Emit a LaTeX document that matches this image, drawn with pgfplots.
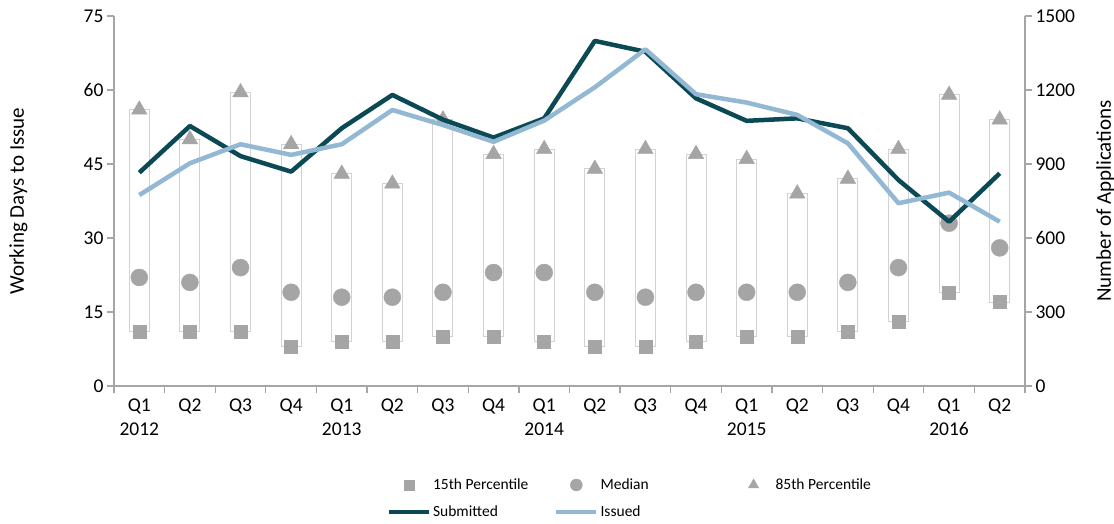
\documentclass[border=0pt]{standalone}
\usepackage{fontspec}
\setmainfont{Carlito}
\usepackage{pgfplots}
\pgfplotsset{compat=1.18}
\usepackage{pgfplotstable}

\definecolor{subm}{HTML}{0B4A55}
\definecolor{issd}{HTML}{93B8D3}
\definecolor{mk}{HTML}{A5A5A5}
\definecolor{boxc}{HTML}{D2D2D2}
\definecolor{axc}{HTML}{A6A6A6}

% quarters 2012 Q1 .. 2016 Q2
\pgfplotstableread{
x  p15 med p85  sub  iss
0  11  22  56   865  774
1  11  21  50   1054 903
2  11  24  59.5 932  980
3  8   19  49   869  937
4  9   18  43   1045 980
5  9   18  41   1180 1119
6  10  19  54   1080 1058
7  10  23  47   1007 990
8  9   23  48   1085 1076
9  8   19  44   1399 1211
10 8   18  48   1355 1365
11 9   19  47   1166 1183
12 10  19  46   1075 1149
13 10  19  39   1085 1099
14 11  21  42   1045 984
15 13  24  48   835  741
16 19  33  59   666  784
17 17  28  54   862  666
}\data

\pgfplotsset{
  base/.style={width=911pt, height=370pt, scale only axis,
    at={(114pt,137pt)}, anchor=south west,
    xmin=-0.5, xmax=17.5,
    /pgf/number format/assume math mode=true,
    /pgf/number format/1000 sep={}},
  mklegend/.style={legend image code/.code={\path[draw=none,fill=none] (0pt,0pt) -- (40pt,0pt);\draw[##1] plot coordinates {(20pt,0pt)};}},
  lnlegend/.style={legend image code/.code={\draw[##1] (0pt,0pt) -- (40pt,0pt);}},
}

\begin{document}
\begin{tikzpicture}
\useasboundingbox (0,0) rectangle (1114pt,523pt);

% boxes from 15th to 85th percentile
\begin{axis}[base, hide axis, ymin=0, ymax=75, ybar stacked, bar width=20pt]
  \addplot[draw=none, fill=none] table[x=x, y=p15] {\data};
  \addplot[draw=boxc, fill=white, line width=1pt] table[x=x, y expr=\thisrow{p85}-\thisrow{p15}] {\data};
\end{axis}

% left axis, percentile markers
\begin{axis}[base, ymin=0, ymax=75, ytick={0,15,...,75},
  axis x line*=bottom, axis y line*=left,
  axis line style={axc, line width=1.3pt},
  tick style={axc, line width=1.3pt}, tick align=outside,
  major tick length=7pt,
  xtick={0,...,17}, major x tick style={draw=none},
  minor xtick={-0.5,0.5,...,17.5}, minor tick length=7pt,
  xticklabels={{Q1\\2012},Q2,Q3,Q4,{Q1\\2013},Q2,Q3,Q4,{Q1\\2014},Q2,Q3,Q4,{Q1\\2015},Q2,Q3,Q4,{Q1\\2016},Q2},
  xticklabel style={align=center, anchor=north, font=\fontsize{19.5}{24}\selectfont, yshift=-2pt},
  yticklabel style={font=\fontsize{19.5}{24}\selectfont},
  ylabel={Working Days to Issue},
  ylabel style={at={(axis description cs:-0.105,0.5)}, anchor=center, font=\fontsize{21}{24}\selectfont},
  ]
  \addplot[only marks, mark=square*, mark size=6.5pt, mk, mark options={draw=mk, fill=mk}] table[x=x, y=p15] {\data};
  \addplot[only marks, mark=*, mark size=8.5pt, mk, mark options={draw=mk, fill=mk}] table[x=x, y=med] {\data};
  \addplot[only marks, mark=triangle*, mark size=9pt, mk, mark options={draw=mk, fill=mk}] table[x=x, y=p85] {\data};
\end{axis}

% right axis, application counts
\begin{axis}[base, ymin=0, ymax=1500, ytick={0,300,...,1500},
  axis x line=none, axis y line*=right,
  axis line style={axc, line width=1.3pt},
  tick style={axc, line width=1.3pt}, tick align=outside,
  major tick length=7pt,
  yticklabel style={font=\fontsize{19.5}{24}\selectfont},
  ylabel={Number of Applications},
  ylabel style={at={(axis description cs:1.088,0.5)}, anchor=center, font=\fontsize{21}{24}\selectfont},
  legend columns=3,
  legend cell align=left,
  legend style={at={(axis description cs:0.299,-0.245)}, anchor=north west,
    draw=none, fill=none, inner sep=0pt, row sep=11pt,
    font=\fontsize{15.5}{18}\selectfont},
  ]
  \addlegendimage{mklegend, only marks, mark=square*, mark size=5pt, mk, mark options={draw=mk, fill=mk}}
  \addlegendentry{\makebox[119pt][l]{15th Percentile}}
  \addlegendimage{mklegend, only marks, mark=*, mark size=6pt, mk, mark options={draw=mk, fill=mk}}
  \addlegendentry{\makebox[131pt][l]{Median}}
  \addlegendimage{mklegend, only marks, mark=triangle*, mark size=6pt, mk, mark options={draw=mk, fill=mk}}
  \addlegendentry{\makebox[112pt][l]{85th Percentile}}
  \addplot[lnlegend, subm, line width=4.5pt, line join=round, mark=none] table[x=x, y=sub] {\data};
  \addlegendentry{Submitted}
  \addplot[lnlegend, issd, line width=4.5pt, line join=round, mark=none] table[x=x, y=iss] {\data};
  \addlegendentry{Issued}
\end{axis}
\end{tikzpicture}
\end{document}
